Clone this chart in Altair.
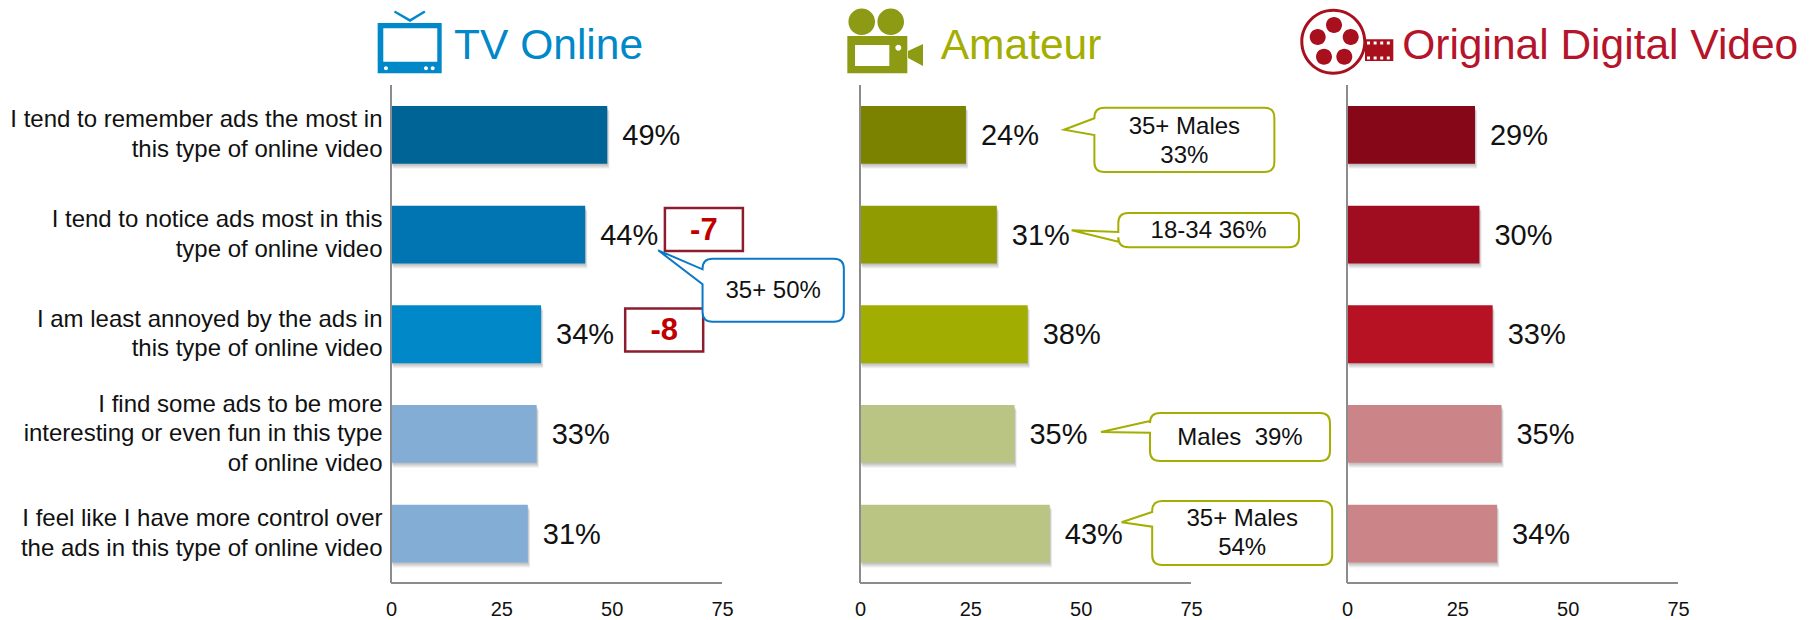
import altair as alt
import pandas as pd

categories = [
    "I tend to remember ads the most in|this type of online video",
    "I tend to notice ads most in this|type of online video",
    "I am least annoyed by the ads in|this type of online video",
    "I find some ads to be more|interesting or even fun in this type|of online video",
    "I feel like I have more control over|the ads in this type of online video",
]
tv_values = [49, 44, 34, 33, 31]
amateur_values = [24, 31, 38, 35, 43]
original_values = [29, 30, 33, 35, 34]
tv_colors = ["#006596", "#0075B1", "#0088C8", "#84ADD6", "#84ADD6"]
amateur_colors = ["#7A8200", "#8F9B00", "#A1AD00", "#BBC583", "#BBC583"]
original_colors = ["#860718", "#A00D20", "#B71224", "#CB8487", "#CB8487"]
tick_values = [0, 25, 50, 75]

PPU = 331 / 75
HEIGHT = 576
TOP = -0.76
BLUE, GREEN, RED = "#0088C9", "#A3AE00", "#B5142B"
GREY = "#8C8C8C"
FONT = "Liberation Sans"


def rect(x0, y0, x1, y1, ccw=False):
    if ccw:
        return f"M{x0},{y0}L{x0},{y1}L{x1},{y1}L{x1},{y0}Z"
    return f"M{x0},{y0}L{x1},{y0}L{x1},{y1}L{x0},{y1}Z"


def circle(cx, cy, r, ccw=False):
    s = 0 if ccw else 1
    return f"M{cx-r},{cy}A{r},{r} 0 1 {s} {cx+r},{cy}A{r},{r} 0 1 {s} {cx-r},{cy}Z"


def bubble(w, h, tip, w1, w2, r=10):
    a, b = w / 2, h / 2
    return (
        f"M{-a+r},{-b}L{a-r},{-b}Q{a},{-b} {a},{-b+r}L{a},{b-r}Q{a},{b} {a-r},{b}"
        f"L{-a+r},{b}Q{-a},{b} {-a},{b-r}L{-a},{w2}L{tip[0]},{tip[1]}L{-a},{w1}"
        f"L{-a},{-b+r}Q{-a},{-b} {-a+r},{-b}Z"
    )


TV_ICON = (
    rect(-32.3, -25, 31.7, 25.3)
    + rect(-26.7, -19.7, 27.3, 13.7, ccw=True)
    + circle(-24, 20.3, 2, True) + circle(16, 20.3, 2, True) + circle(22.7, 20.3, 2, True)
    + "M-15,-37.5L0,-29L14.3,-37.5L15.5,-35.5L0,-26L-16,-35.5Z"
)
CAM_ICON = (
    circle(-23.3, -26.3, 13.3) + circle(5.7, -26.3, 13.3)
    + rect(-37.7, -12, 22.3, 25.3)
    + rect(-30, -3, 4.3, 18, ccw=True)
    + circle(13.3, -0.3, 3, True)
    + "M23,3L38,-4L38,18L23,10Z"
)
REEL_ICON = (
    circle(-11.7, -6.3, 33) + circle(-11.7, -6.3, 30, True)
    + circle(-11, -23, 8) + circle(-27.3, -11, 8) + circle(5.7, -11, 8)
    + circle(-21, 8.7, 8) + circle(-0.7, 8.7, 8)
    + rect(20, -8.7, 48.3, 13)
    + "".join(rect(22 + 6.6 * i, -6.6, 25 + 6.6 * i, -3.6, True) for i in range(4))
    + "".join(rect(22 + 6.6 * i, 8.6, 25 + 6.6 * i, 11.6, True) for i in range(4))
)

callouts = {
    "tv": [dict(x=86.6, row=2.052, w=141.3, h=63, tip=(-115, -39.9), w1=-20.9, w2=-5.9,
                text="35+ 50%", tx=86.6, tr=2.06, color="#0B78C8")],
    "amateur": [
        dict(x=73.5, row=0.5485, w=180, h=64.3, tip=(-120.3, -10.15), w1=-21.55, w2=-4.85,
             text="35+ Males\n33%", tx=73.5, tr=0.42, color=GREEN),
        dict(x=79.0, row=1.4515, w=180.7, h=34.3, tip=(-137, 0.15), w1=1.85, w2=11.55,
             text="18-34 36%", tx=79.0, tr=1.46, color=GREEN),
        dict(x=86.1, row=3.52, w=180, h=48, tip=(-139, -5), w1=-16, w2=-4.3,
             text="Males\u00a0 39%", tx=86.1, tr=3.53, color=GREEN),
        dict(x=86.6, row=4.48, w=180, h=64, tip=(-120.6, -10.7), w1=-21, w2=-6.3,
             text="35+ Males\n54%", tx=86.6, tr=4.34, color=GREEN),
    ],
    "original": [],
}
deltas = {"tv": [dict(x=70.9, row=1.445, text="-7"), dict(x=61.9, row=2.45, text="-8")]}


def pt(x, row, **extra):
    return pd.DataFrame([dict(x=x, row=row, **extra)])


X_AXIS = alt.Axis(values=tick_values, domain=False, ticks=False, grid=False, title=None,
                  labelFontSize=20, labelFont=FONT, labelColor="#111", labelPadding=14,
                  labelOverlap=False, labelFlush=False)
BAND = alt.Scale(domain=categories, range=[76, 574.5], paddingInner=0.42, paddingOuter=0.21)


def xscale(domain):
    return alt.Scale(domain=domain, nice=False, zero=False)


def xs(domain):
    return alt.X("x:Q", scale=xscale(domain), axis=X_AXIS)


def ys():
    return alt.Y("row:Q", scale=alt.Scale(domain=[TOP, 5], range=[0, HEIGHT], nice=False, zero=False), axis=None)


def panel(key, values, colors, width, title, title_x, title_color, icon, icon_x, icon_color, left_axis):
    domain = [0, width / PPU]
    df = pd.DataFrame({"cat": categories, "value": values, "color": colors,
                       "label": [f"{v}%" for v in values]})
    x_bar = alt.X("value:Q", scale=xscale(domain), axis=X_AXIS)
    axis = None
    if left_axis:
        axis = alt.Axis(title=None, domain=False, ticks=False, grid=False, labelFontSize=24, labelFont=FONT,
                        labelColor="#111", labelLimit=420, labelPadding=9, labelLineHeight=29.5,
                        labelExpr="split(datum.label,'|')",
                        labelOffset={"condition": {"test": "indexof(datum.value,'interesting')>=0", "value": -29},
                                     "value": -14.5})
    y_plain = alt.Y("cat:N", sort=None, axis=None, scale=BAND)
    y_bar = alt.Y("cat:N", sort=None, axis=axis, scale=BAND)
    layers = []
    for i in range(1, 6):
        layers.append(alt.Chart(df).mark_bar(color="#000", opacity=0.055, xOffset=i * 0.45, yOffset=i).encode(
            x=x_bar, y=y_plain))
    layers.append(alt.Chart(df).mark_bar(opacity=1).encode(x=x_bar, y=y_bar, color=alt.Color("color:N", scale=None)))
    layers.append(alt.Chart(df).mark_text(align="left", baseline="middle", dx=15, dy=1, fontSize=29, font=FONT, color="#111").encode(
        x=x_bar, y=y_plain, text="label:N"))
    # axis lines
    layers.append(alt.Chart(pt(0, 0, row2=4.98)).mark_rule(color=GREY, strokeWidth=2).encode(
        x=xs(domain), y=ys(), y2="row2:Q"))
    layers.append(alt.Chart(pt(0, 4.98, x2=75)).mark_rule(color=GREY, strokeWidth=2).encode(
        x=xs(domain), x2="x2:Q", y=ys()))
    # header
    layers.append(alt.Chart(pt(title_x, -0.26, t=title)).mark_text(
        align="left", baseline="alphabetic", fontSize=42.5, font=FONT, color=title_color).encode(
        x=xs(domain), y=ys(), text="t:N"))
    layers.append(alt.Chart(pt(icon_x, -0.37)).mark_point(
        shape=icon, size=4, filled=True, fill=icon_color, strokeWidth=0, opacity=1).encode(x=xs(domain), y=ys()))
    # delta boxes
    for d in deltas.get(key, []):
        layers.append(alt.Chart(pt(d["x"], d["row"])).mark_point(
            shape=rect(-39, -21.5, 39, 21.5), size=4, fill="white", stroke="#8C1D2E", strokeWidth=2.5, opacity=1, filled=False
        ).encode(x=xs(domain), y=ys()))
        layers.append(alt.Chart(pt(d["x"], d["row"] + 0.01, t=d["text"])).mark_text(
            align="center", baseline="middle", fontSize=31, fontWeight="bold", font=FONT, color="#C00000"
        ).encode(x=xs(domain), y=ys(), text="t:N"))
    # callouts
    for c in callouts[key]:
        layers.append(alt.Chart(pt(c["x"], c["row"])).mark_point(
            shape=bubble(c["w"], c["h"], c["tip"], c["w1"], c["w2"]), size=4, fill="white",
            stroke=c["color"], strokeWidth=2, opacity=1, filled=False
        ).encode(x=xs(domain), y=ys()))
        layers.append(alt.Chart(pt(c["tx"], c["tr"], t=c["text"])).mark_text(
            align="center", baseline="middle", fontSize=24, font=FONT, color="#111", lineBreak="\n", lineHeight=29
        ).encode(x=xs(domain), y=ys(), text="t:N"))
    return alt.layer(*layers).resolve_scale(y="independent").properties(width=width, height=HEIGHT)


p1 = panel("tv", tv_values, tv_colors, 469, "TV Online", 14.3, BLUE, TV_ICON, 4.3, BLUE, True)
p2 = panel("amateur", amateur_values, amateur_colors, 487, "Amateur", 18.3, GREEN, CAM_ICON, 5.67, "#8C9A14", False)
p3 = panel("original", original_values, original_colors, 453, "Original Digital Video", 12.5, RED, REEL_ICON, -0.45, "#A8101E", False)

chart = (
    alt.hconcat(p1, p2, p3, spacing=0, bounds="flush")
    .properties(padding={"left": 1, "top": 0, "right": 0, "bottom": 0})
    .configure_view(stroke=None)
)
chart.save("out.html", embed_options={"renderer": "svg", "actions": False})
